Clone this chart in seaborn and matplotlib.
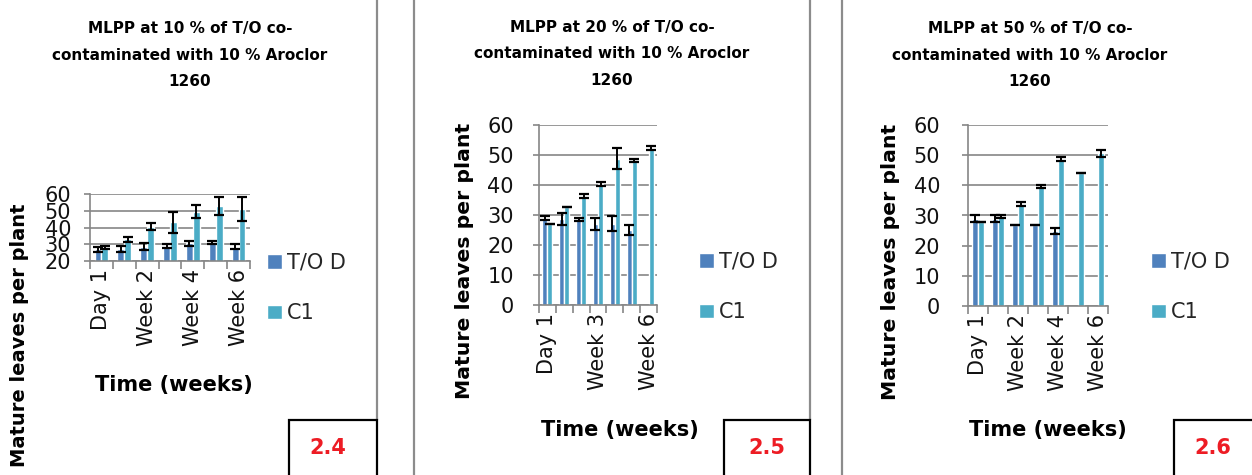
import numpy as np
import pandas as pd
import seaborn as sns
import matplotlib
matplotlib.use("Agg")
import matplotlib.pyplot as plt
from matplotlib.patches import Rectangle
from matplotlib.lines import Line2D
from matplotlib.ticker import FixedLocator

# ---------------- data ----------------
categories = ["Day 1", "Week 1", "Week 2", "Week 3", "Week 4", "Week 5", "Week 6"]
series_names = ["T/O D", "C1"]

p1_tod = [27.0, 27.2, 28.5, 29.0, 30.5, 31.0, 28.5]
p1_tod_err = [1.5, 2.0, 2.0, 1.0, 1.5, 1.0, 1.5]
p1_c1 = [28.0, 32.9, 40.5, 43.0, 49.5, 53.0, 51.0]
p1_c1_err = [1.0, 1.5, 2.0, 6.3, 4.0, 5.5, 7.0]

p2_tod = [28.9, 28.6, 28.6, 27.0, 27.0, 25.0, np.nan]
p2_tod_err = [0.7, 2.0, 0.5, 2.0, 2.5, 1.8, np.nan]
p2_c1 = [27.0, 32.8, 36.4, 40.4, 48.7, 48.2, 52.2]
p2_c1_err = [0.0, 0.0, 0.7, 0.6, 3.5, 0.6, 0.7]

p3_tod = [29.0, 29.0, 26.9, 26.9, 24.9, np.nan, np.nan]
p3_tod_err = [1.0, 1.0, 0.0, 0.0, 1.0, np.nan, np.nan]
p3_c1 = [27.9, 29.6, 33.8, 39.6, 48.7, 44.0, 50.6]
p3_c1_err = [0.0, 0.5, 0.6, 0.5, 0.6, 0.0, 1.2]

titles = ["MLPP at 10 % of T/O co-\ncontaminated with 10 % Aroclor\n1260",
          "MLPP at 20 % of T/O co-\ncontaminated with 10 % Aroclor\n1260",
          "MLPP at 50 % of T/O co-\ncontaminated with 10 % Aroclor\n1260"]
panel_ids = ["2.4", "2.5", "2.6"]
xlabel = "Time (weeks)"
ylabel = "Mature leaves per plant"
shown_ticks = [["Day 1", "Week 2", "Week 4", "Week 6"],
               ["Day 1", "Week 3", "Week 6"],
               ["Day 1", "Week 2", "Week 4", "Week 6"]]
y_limits = [(20, 60), (0, 60), (0, 60)]

colors = ["#4F81BD", "#4BACC6"]

# ---------------- style ----------------
sns.set_theme(style="white")
plt.rcParams["font.family"] = ["DejaVu Sans"]

W, H = 1252, 475
fig = plt.figure(figsize=(W / 100, H / 100), dpi=100)
fig.patch.set_facecolor("white")

def fx(px):
    return px / W

def fy(py):
    return 1 - py / H

# axes boxes in pixel coords: left, right, top, bottom
boxes = [(90, 250, 194, 261), (539, 657, 125, 305), (968, 1108, 125, 306)]
legend_pos = [(267, 288), (699, 287), (1151, 287)]
ylabel_pos = [(20, 335), (464, 261), (890, 262)]
ylabel_size = [14, 14.7, 14.7]
ytick_pad = [9.5, 14.0, 16.0]
xlabel_pos = [(174, 385), (620, 430), (1048, 430)]
title_pos = [(190, 55), (612, 54), (1030, 55)]
box_pos = [(289, 377, 328), (724, 810, 767), (1174, 1262, 1213)]

panels = [
    (p1_tod, p1_tod_err, p1_c1, p1_c1_err),
    (p2_tod, p2_tod_err, p2_c1, p2_c1_err),
    (p3_tod, p3_tod_err, p3_c1, p3_c1_err),
]

grid_col = "#868686"

for k, (tod, tod_e, c1, c1_e) in enumerate(panels):
    l, r, t, b = boxes[k]
    ax = fig.add_axes([fx(l), fy(b), fx(r - l), (b - t) / H])
    df = pd.DataFrame({
        "cat": categories * 2,
        "series": [series_names[0]] * 7 + [series_names[1]] * 7,
        "val": list(tod) + list(c1),
    })
    errs = {series_names[0]: tod_e, series_names[1]: c1_e}
    vals = {series_names[0]: tod, series_names[1]: c1}
    sns.barplot(data=df, x="cat", y="val", hue="series", order=categories,
                hue_order=series_names, palette=colors, width=0.6,
                errorbar=None, saturation=1, ax=ax, zorder=2)
    # error bars at the bar centres
    for cont, name in zip(ax.containers, series_names):
        for patch in cont.patches:
            h = patch.get_height()
            if np.isnan(h):
                continue
            cx = patch.get_x() + patch.get_width() / 2
            idx = int(round(cx))
            e = errs[name][idx]
            v = vals[name][idx]
            if np.isnan(v):
                continue
            ax.errorbar(cx, v, yerr=e, fmt="none", ecolor="black",
                        elinewidth=1.4, capsize=3.8, capthick=1.6, zorder=4)
    lo, hi = y_limits[k]
    ax.set_ylim(lo, hi)
    ax.set_yticks(np.arange(lo, hi + 1, 10))
    ax.set_xlim(-0.5, 6.5)
    ax.yaxis.grid(True, color=grid_col, linewidth=1.2, zorder=0)
    ax.set_axisbelow(True)
    for s in ["top", "right"]:
        ax.spines[s].set_visible(False)
    for s in ["left", "bottom"]:
        ax.spines[s].set_color(grid_col)
        ax.spines[s].set_linewidth(1.2)
    # x tick labels: only some categories shown
    pos = [categories.index(c) for c in shown_ticks[k]]
    ax.set_xticks(pos)
    ax.set_xticklabels(shown_ticks[k], rotation=90, fontsize=15)
    ax.xaxis.set_minor_locator(FixedLocator(np.arange(-0.5, 7.0, 1.0)))
    ax.tick_params(axis="x", which="major", length=0, pad=5.5)
    ax.tick_params(axis="x", which="minor", length=6, width=1.2, color=grid_col, direction="out", bottom=True)
    ax.tick_params(axis="y", left=True, length=4, width=1.2, color=grid_col,
                   direction="out", labelsize=15, pad=ytick_pad[k])
    for lab in ax.get_yticklabels() + ax.get_xticklabels():
        lab.set_color("#111111")
    # labels
    ax.set_xlabel(xlabel, fontsize=15, fontweight="bold", color="black")
    ax.xaxis.set_label_coords(fx(xlabel_pos[k][0]), fy(xlabel_pos[k][1]), transform=fig.transFigure)
    ax.xaxis.label.set_verticalalignment("center")
    ax.set_ylabel(ylabel, fontsize=ylabel_size[k], fontweight="bold", color="black")
    ax.yaxis.set_label_coords(fx(ylabel_pos[k][0]), fy(ylabel_pos[k][1]), transform=fig.transFigure)
    ax.yaxis.label.set_verticalalignment("center")
    # title (placed in figure coordinates)
    ax.set_title(titles[k], fontsize=11, fontweight="bold", linespacing=1.95,
                 va="center", ha="center", color="black",
                 x=fx(title_pos[k][0]), y=fy(title_pos[k][1]), transform=fig.transFigure)
    # legend
    handles, labels = ax.get_legend_handles_labels()
    ax.legend(handles, labels, loc="center left",
              bbox_to_anchor=(fx(legend_pos[k][0]), fy(legend_pos[k][1])),
              bbox_transform=fig.transFigure, frameon=False, fontsize=15,
              handlelength=0.7, handleheight=0.7, handletextpad=0.25,
              labelspacing=1.45, borderpad=0, borderaxespad=0)
    # panel id box
    x0, x1, xc = box_pos[k]
    fig.patches.append(Rectangle((fx(x0), fy(478)), fx(x1 - x0), (478 - 420) / H,
                                 transform=fig.transFigure, fill=False,
                                 edgecolor="black", linewidth=1.6, zorder=5))
    fig.text(fx(xc), fy(448), panel_ids[k], color="#ED1C24", fontsize=15,
             fontweight="bold", ha="center", va="center")

# frame lines between panels
for x, y0, y1 in [(377, 0, 420), (414, 0, 475), (810, 0, 420), (842, 0, 475)]:
    fig.add_artist(Line2D([fx(x), fx(x)], [fy(y1), fy(y0)], transform=fig.transFigure,
                          color="#8c8c8c", linewidth=1.6))

fig.savefig("out.png", dpi=100)
